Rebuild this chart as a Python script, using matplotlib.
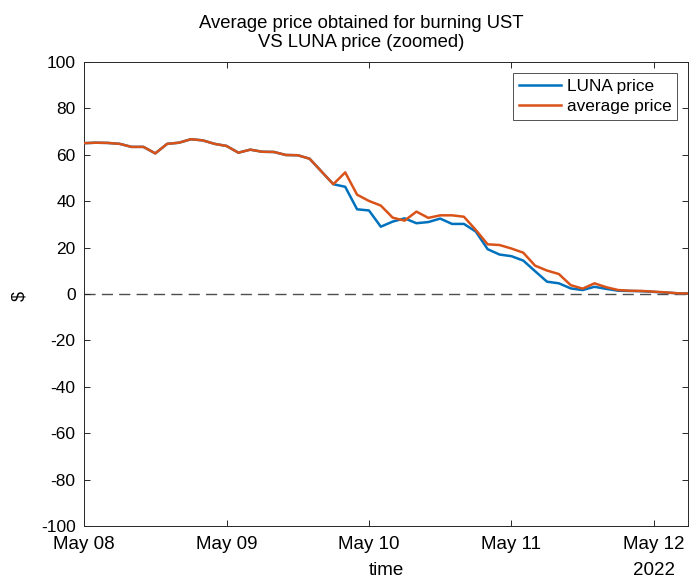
import matplotlib.pyplot as plt
import matplotlib.dates as mdates
import numpy as np
import pandas as pd

plt.rcParams['font.family'] = ['Liberation Sans', 'DejaVu Sans']
plt.rcParams['axes.unicode_minus'] = False

# sample times: every 2 hours from May 08 2022
times = pd.date_range('2022-05-08 00:00', periods=52, freq='2h')

luna_price = [65.0, 65.2, 65.1, 64.7, 63.4, 63.4, 60.6, 64.7, 65.2, 66.7,
              66.2, 64.7, 63.8, 60.9, 62.2, 61.3, 61.2, 59.9, 59.8, 58.3,
              52.8, 47.3, 46.2, 36.5, 36.0, 29.0, 31.2, 32.6, 30.5, 31.0,
              32.5, 30.2, 30.2, 26.9, 19.3, 17.0, 16.3, 14.4, 9.8, 5.3,
              4.6, 2.4, 1.7, 3.1, 2.2, 1.4, 1.3, 1.2, 0.9, 0.6,
              0.3, 0.2]

average_price = [65.0, 65.2, 65.1, 64.7, 63.4, 63.4, 60.6, 64.7, 65.2, 66.7,
                 66.2, 64.7, 63.8, 60.9, 62.2, 61.3, 61.2, 59.9, 59.8, 58.3,
                 52.8, 47.3, 52.4, 42.8, 40.1, 38.1, 32.9, 31.6, 35.5, 32.8,
                 33.9, 33.9, 33.3, 27.6, 21.4, 21.1, 19.6, 17.8, 12.2, 10.1,
                 8.6, 3.8, 2.3, 4.6, 2.9, 1.7, 1.4, 1.3, 1.0, 0.7,
                 0.3, 0.2]

y_ticks = np.arange(-100, 101, 20)

fig = plt.figure(figsize=(6.89, 5.79), dpi=100)
ax = fig.add_axes([0.122, 0.0915, 0.8765, 0.8015])

ax.axhline(0, color='#4d4d4d', linestyle=(0, (8, 4.5)), linewidth=1.0, zorder=1)
ax.plot(times, luna_price, color='#0072BD', linewidth=1.8, label='LUNA price', zorder=2)
ax.plot(times, average_price, color='#D95319', linewidth=1.8, label='average price', zorder=3)

ax.set_xlim(times[0], pd.Timestamp('2022-05-12 05:45'))
ax.set_ylim(-100, 100)
ax.set_yticks(y_ticks)
ax.xaxis.set_major_locator(mdates.DayLocator())
ax.xaxis.set_major_formatter(mdates.DateFormatter('%b %d'))

ax.tick_params(direction='in', length=4.5, width=0.7,
               top=True, right=True, colors='#262626', labelcolor='black')
ax.tick_params(axis='x', labelsize=13.5, pad=7)
ax.tick_params(axis='y', labelsize=12.5, pad=6)
for s in ax.spines.values():
    s.set_color('#262626')
    s.set_linewidth(0.7)

ax.set_xlabel('time', fontsize=13.5)
ax.xaxis.label.set_va('baseline')
ax.xaxis.set_label_coords(0.5, -49 / 464)
ax.set_ylabel('$', fontsize=13)
ax.yaxis.label.set_va('center')
ax.yaxis.set_label_coords(-64 / 604, 0.495)
ax.set_title('Average price obtained for burning UST\nVS LUNA price (zoomed)',
             fontsize=13.3, linespacing=1.1, pad=11, x=(361 - 84) / 604)
ax.annotate('2022', xy=(mdates.date2num(pd.Timestamp('2022-05-12')), 0),
            xycoords=('data', 'axes fraction'), xytext=(0, -35.3),
            textcoords='offset points', ha='center', va='baseline', fontsize=13.5)

leg = ax.legend(loc='upper right', fontsize=12.4, frameon=True, fancybox=False,
                edgecolor='#262626', borderpad=0.35, handlelength=2.45,
                handletextpad=0.3, labelspacing=0.3, borderaxespad=0.62)
leg.get_frame().set_linewidth(0.7)

fig.savefig('out.png', dpi=100)
